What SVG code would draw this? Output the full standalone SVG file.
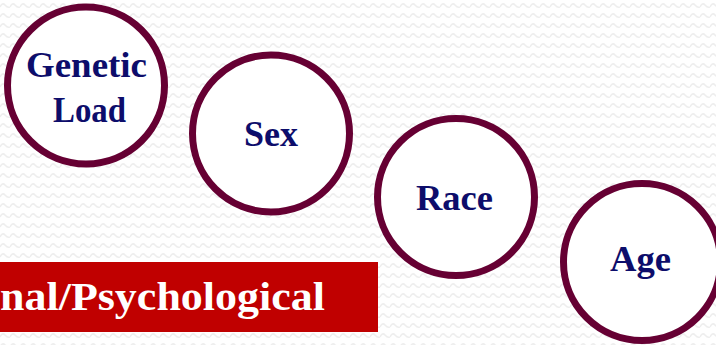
<svg xmlns="http://www.w3.org/2000/svg" width="716" height="345" viewBox="0 0 716 345">
<defs>
<pattern id="zz" width="10" height="10" patternUnits="userSpaceOnUse">
<rect width="10" height="10" fill="#ffffff"/>
<path d="M0,7 Q2.5,2 5,5 T10,7" fill="none" stroke="#eeeeee" stroke-width="1.5"/>
</pattern>
<style>
.c{fill:#ffffff;stroke:#660033;stroke-width:7}
.t{font-family:"Liberation Serif","Times New Roman",serif;font-weight:bold;font-size:35px;fill:#0d0d6b;text-anchor:middle}
.b{font-family:"Liberation Serif","Times New Roman",serif;font-weight:bold;font-size:41px;fill:#ffffff}
</style>
</defs>
<rect width="716" height="345" fill="url(#zz)"/>
<g id="bar">
<rect x="0" y="262" width="378" height="70" fill="#c00000"/>
<text class="b" x="0" y="310" textLength="325" lengthAdjust="spacingAndGlyphs">nal/Psychological</text>
</g>
<g id="genetic-load">
<circle class="c" cx="86" cy="85.5" r="78.5"/>
<text class="t" x="86.5" y="77" textLength="121" lengthAdjust="spacingAndGlyphs">Genetic</text>
<text class="t" x="89.5" y="122" textLength="73" lengthAdjust="spacingAndGlyphs">Load</text>
</g>
<g id="sex">
<circle class="c" cx="271" cy="133.5" r="78.5"/>
<text class="t" x="271" y="146" textLength="54" lengthAdjust="spacingAndGlyphs">Sex</text>
</g>
<g id="race">
<circle class="c" cx="456" cy="197" r="78.5"/>
<text class="t" x="454.5" y="210" textLength="77" lengthAdjust="spacingAndGlyphs">Race</text>
</g>
<g id="age">
<circle class="c" cx="642" cy="262" r="78.5"/>
<text class="t" x="640.5" y="271" textLength="61" lengthAdjust="spacingAndGlyphs">Age</text>
</g>
<g id="connectors"></g>
</svg>
